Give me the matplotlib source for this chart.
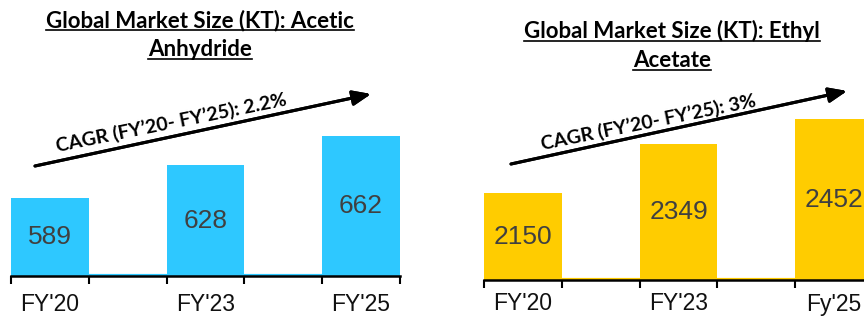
import matplotlib.pyplot as plt
from matplotlib.lines import Line2D

# Data
years_aa = ["FY'20", "FY'23", "FY'25"]
sizes_aa = [589, 628, 662]
years_ea = ["FY'20", "FY'23", "Fy'25"]
sizes_ea = [2150, 2349, 2452]
cagr_aa = "CAGR (FY\u201920- FY\u201925): 2.2%"
cagr_ea = "CAGR (FY\u201920- FY\u201925): 3%"

W, H = 864, 318
fig = plt.figure(figsize=(W / 100, H / 100), dpi=100)
fig.patch.set_facecolor('white')


def px(x, y):
    # pixel position (from top left) to figure fraction
    return x / W, 1 - y / H


def bar_panel(rect, years, sizes, color, ylim, pad):
    ax = fig.add_axes(rect)
    pos = [2 * i for i in range(len(sizes))]
    ax.bar(pos, sizes, width=1, color=color, zorder=2)
    ax.axhline(ylim[0], color=color, lw=3, zorder=1)
    for p, v in zip(pos, sizes):
        ax.text(p, (ylim[0] + v) / 2, str(v), ha='center', va='center',
                fontsize=19, color='#404040', family='Liberation Sans', zorder=3)
    ax.set_xlim(-0.5, 2 * len(sizes) - 1.5)
    ax.set_ylim(*ylim)
    ax.set_xticks(pos)
    ax.set_xticklabels(years, fontsize=16.5, family='Liberation Sans', color='#111111')
    ax.set_xticks([p - 0.5 for p in range(2 * len(sizes))], minor=True)
    ax.tick_params(axis='x', which='major', length=0, pad=pad)
    ax.tick_params(axis='x', which='minor', length=6, width=1.5, direction='out')
    ax.set_yticks([])
    for s in ['top', 'right', 'left']:
        ax.spines[s].set_visible(False)
    ax.spines['bottom'].set_linewidth(1.8)
    ax.spines['bottom'].set_zorder(4)
    ax.set_facecolor('none')
    return ax


# Left: Acetic Anhydride
bar_panel([11 / W, 42 / H, 389 / W, 216 / H], years_aa, sizes_aa, '#2EC8FF', (497, 752), 12)
# Right: Ethyl Acetate (runs off the right edge like the source slide)
bar_panel([484 / W, 38 / H, 389 / W, 220 / H], years_ea, sizes_ea, '#FFCC00', (1795, 2693), 9)

# Titles (underlined)
titles = [(200, 27, "Global Market Size (KT): Acetic"), (200, 56, "Anhydride"),
          (672, 38, "Global Market Size (KT): Ethyl"), (672, 67, "Acetate")]
title_objs = []
for x, y, t in titles:
    tx = fig.text(*px(x, y), t, ha='center', va='baseline', fontsize=16,
                  fontweight='bold', family='Lato', color='black')
    title_objs.append((tx, y))

# CAGR arrows
for (x0, y0, x1, y1) in [(35, 166, 371, 94), (511, 164, 847, 91)]:
    fig.add_artist(plt.annotate('', xy=px(x1, y1), xytext=px(x0, y0),
                                xycoords='figure fraction', textcoords='figure fraction',
                                arrowprops=dict(arrowstyle='-|>,head_length=1.1,head_width=0.45',
                                                color='black', lw=2.2, shrinkA=0, shrinkB=0)))
fig.text(*px(171, 123), cagr_aa, ha='center', va='center', rotation=11.5, rotation_mode='anchor',
         fontsize=14, fontweight='bold', family='Lato')
fig.text(*px(648, 122), cagr_ea, ha='center', va='center', rotation=11.5, rotation_mode='anchor',
         fontsize=14, fontweight='bold', family='Lato')

# underline titles
fig.canvas.draw()
r = fig.canvas.get_renderer()
for tx, y in title_objs:
    bb = tx.get_window_extent(r)
    yy = 1 - (y + 3) / H
    fig.add_artist(Line2D([bb.x0 / W, bb.x1 / W], [yy, yy], color='black', lw=1.2,
                          transform=fig.transFigure))

fig.savefig('out.png', dpi=100)
